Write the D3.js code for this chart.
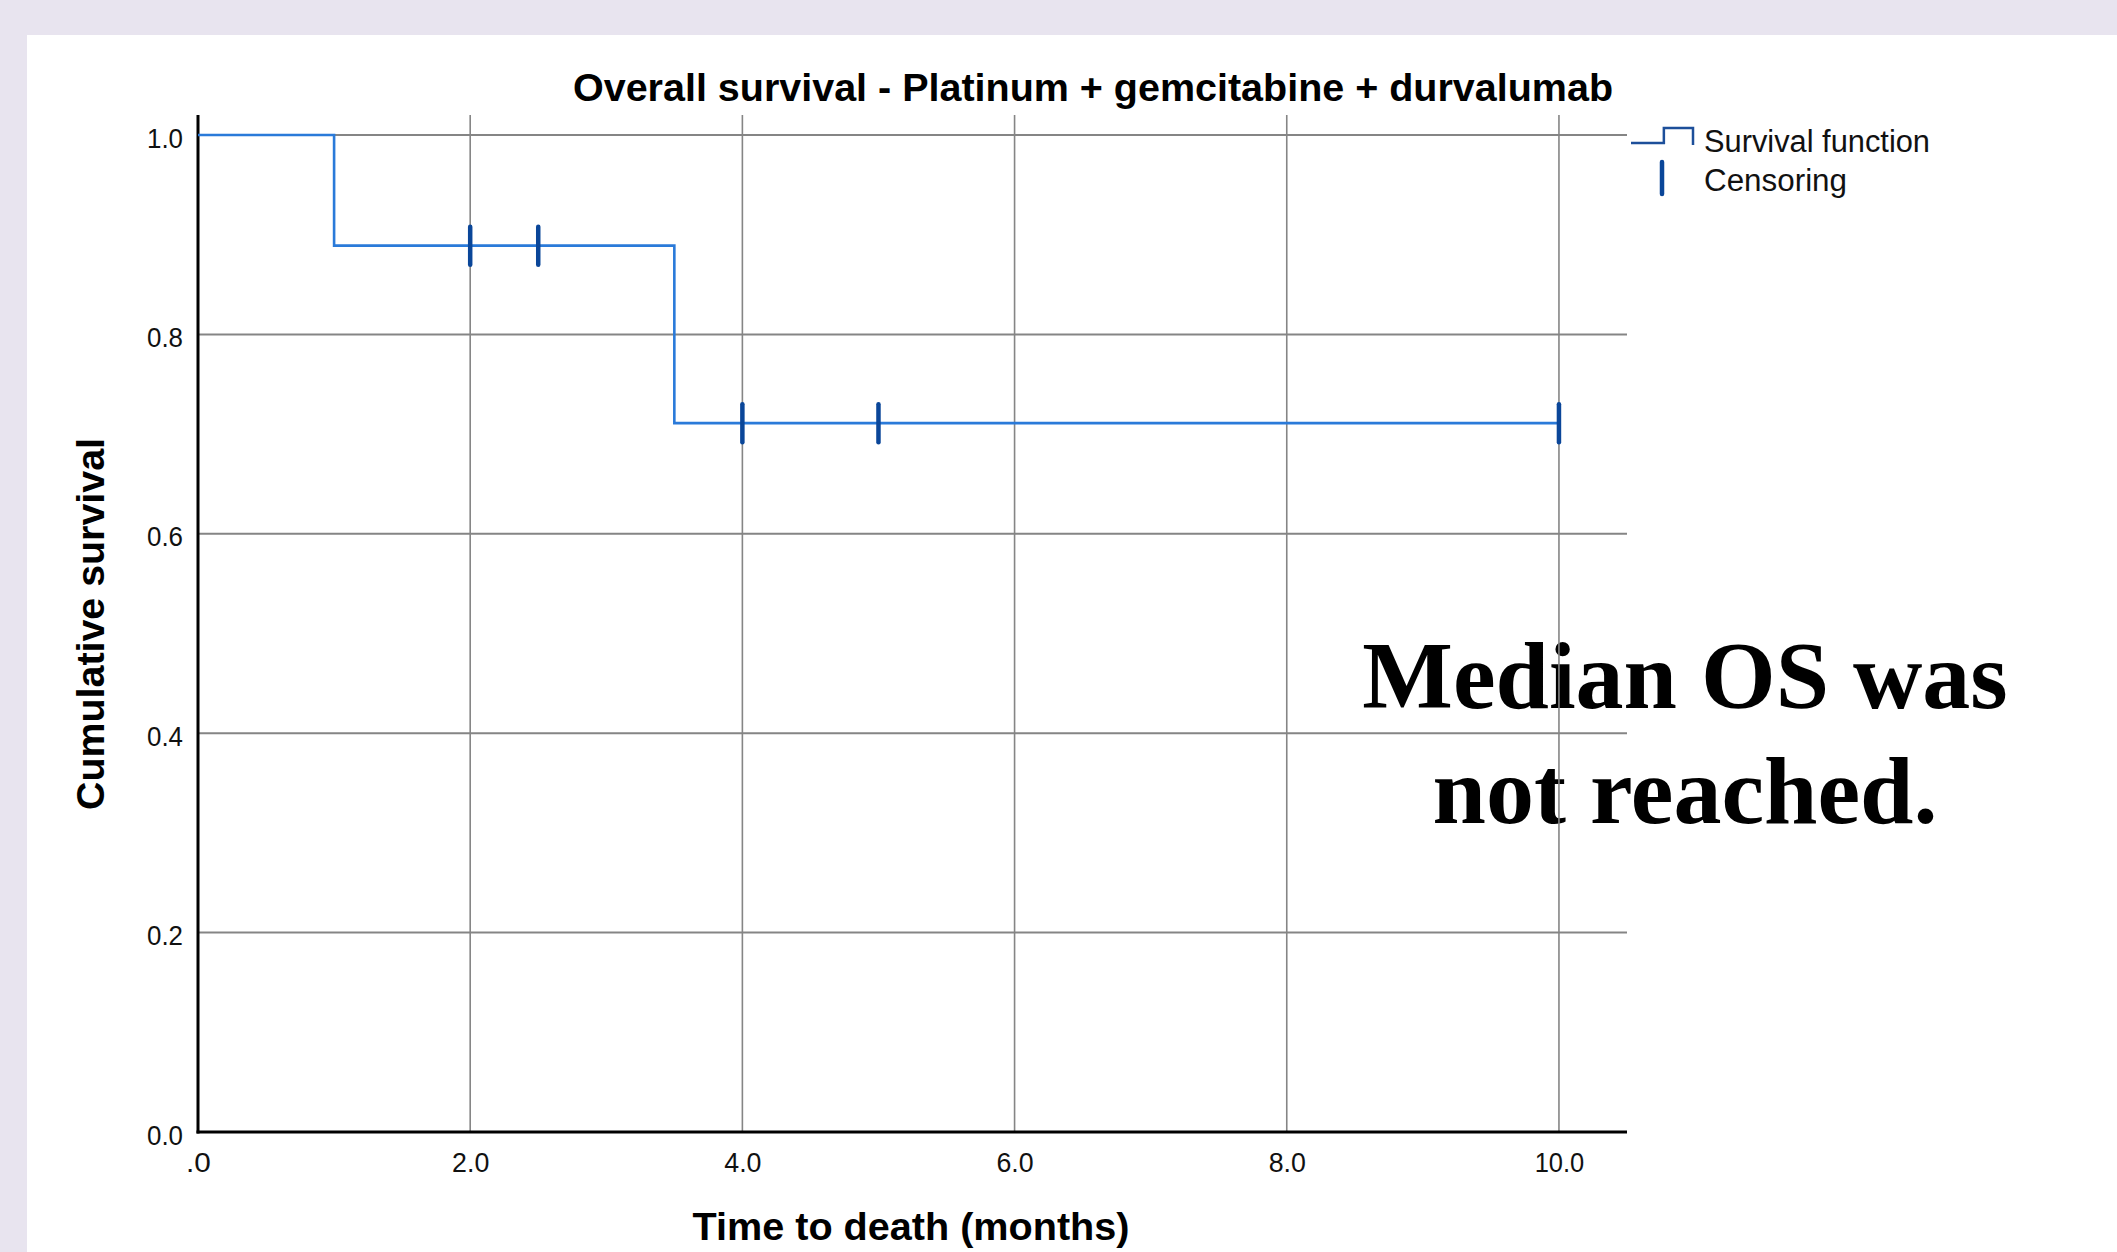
<!DOCTYPE html>
<html>
<head>
<meta charset="utf-8">
<script src="https://cdn.jsdelivr.net/npm/d3@7"></script>
<style>
  html, body { margin: 0; padding: 0; background: #e8e4ef; }
  svg { display: block; }
</style>
</head>
<body>
<svg id="chart" width="2117" height="1252"></svg>
<script>
// ---- Data ----
const titleText = "Overall survival - Platinum + gemcitabine + durvalumab";
const xLabelText = "Time to death (months)";
const yLabelText = "Cumulative survival";
const legendLabels = ["Survival function", "Censoring"];
const annotationLines = ["Median OS was", "not reached."];

const stepTimes = [0, 1.0, 3.5, 10.0];
const stepSurvival = [1.0, 0.889, 0.711, 0.711];

const censorTimes = [2.0, 2.5, 4.0, 5.0, 10.0];
const censorSurvival = [0.889, 0.889, 0.711, 0.711, 0.711];

const xTicks = [0, 2, 4, 6, 8, 10];
const xTickLabels = [".0", "2.0", "4.0", "6.0", "8.0", "10.0"];
const yTicks = [0, 0.2, 0.4, 0.6, 0.8, 1.0];
const yTickLabels = ["0.0", "0.2", "0.4", "0.6", "0.8", "1.0"];

(function () {
// ---- Layout ----
const svg = d3.select("#chart");
const W = 2117, H = 1252;
const pLeft = 198, pRight = 1627, pTop = 115, pBottom = 1132;

svg.append("rect").attr("x", 0).attr("y", 0).attr("width", W).attr("height", H).attr("fill", "#e8e4ef");
svg.append("rect").attr("x", 27).attr("y", 35).attr("width", W - 27).attr("height", H - 35).attr("fill", "#ffffff");

const x = d3.scaleLinear().domain([0, 10.5]).range([pLeft, pRight]);
const y = d3.scaleLinear().domain([0, 1.0]).range([pBottom, 135]);

const sans = "'Liberation Sans', Arial, sans-serif";

// Annotation (under grid)
const ann = svg.append("g");
ann.selectAll("text").data(annotationLines).join("text")
  .attr("x", 1685)
  .attr("y", (d, i) => 708 + i * 115)
  .attr("text-anchor", "middle")
  .attr("font-family", "'Liberation Serif', 'Times New Roman', serif")
  .attr("font-weight", "bold")
  .attr("font-size", 96)
  .attr("fill", "#000")
  .text(d => d);

// Gridlines
const grid = svg.append("g");
grid.selectAll("line.h").data(yTicks.filter(d => d > 0)).join("line")
  .attr("class", "h")
  .attr("x1", pLeft).attr("x2", pRight)
  .attr("y1", d => y(d)).attr("y2", d => y(d))
  .attr("stroke", "#858585").attr("stroke-width", 2);
grid.selectAll("line.v").data(xTicks.filter(d => d > 0)).join("line")
  .attr("class", "v")
  .attr("x1", d => x(d)).attr("x2", d => x(d))
  .attr("y1", pTop).attr("y2", pBottom)
  .attr("stroke", "#858585").attr("stroke-width", 1.6);

// Axes (labels via d3 axes)
const xAxis = svg.append("g").attr("transform", `translate(0,${pBottom})`)
  .call(d3.axisBottom(x).tickValues(xTicks).tickFormat((d, i) => xTickLabels[i]).tickSize(0).tickPadding(21));
const yAxis = svg.append("g").attr("transform", `translate(${pLeft},0)`)
  .call(d3.axisLeft(y).tickValues(yTicks).tickFormat((d, i) => yTickLabels[i]).tickSize(0).tickPadding(15));
[xAxis, yAxis].forEach(g => {
  g.select(".domain").remove();
  g.selectAll("text").attr("font-family", sans).attr("font-size", 27).attr("fill", "#111");
});
xAxis.selectAll(".tick text")
  .attr("textLength", (d, i) => xTickLabels[i].length * 12.4).attr("lengthAdjust", "spacingAndGlyphs");
yAxis.selectAll("text").attr("dy", "0.45em")
  .attr("textLength", 36).attr("lengthAdjust", "spacingAndGlyphs");

// Axis lines
svg.append("line").attr("x1", pLeft).attr("x2", pLeft).attr("y1", pTop).attr("y2", pBottom + 1.5)
  .attr("stroke", "#000").attr("stroke-width", 3);
svg.append("line").attr("x1", pLeft - 1.5).attr("x2", pRight).attr("y1", pBottom).attr("y2", pBottom)
  .attr("stroke", "#000").attr("stroke-width", 3);

// Survival curve
const stepData = stepTimes.map((t, i) => [t, stepSurvival[i]]);
const line = d3.line().x(d => x(d[0])).y(d => y(d[1])).curve(d3.curveStepAfter);
svg.append("path").datum(stepData)
  .attr("d", line)
  .attr("fill", "none")
  .attr("stroke", "#2a7ad9")
  .attr("stroke-width", 2.6);

// Censor marks
const censorData = censorTimes.map((t, i) => [t, censorSurvival[i]]);
svg.append("g").selectAll("line").data(censorData).join("line")
  .attr("x1", d => x(d[0])).attr("x2", d => x(d[0]))
  .attr("y1", d => y(d[1]) - 19).attr("y2", d => y(d[1]) + 19)
  .attr("stroke", "#0a4699").attr("stroke-width", 4.5).attr("stroke-linecap", "round");

// Title
svg.append("text")
  .attr("x", 1093).attr("y", 101)
  .attr("text-anchor", "middle")
  .attr("font-family", sans).attr("font-weight", "bold").attr("font-size", 39)
  .attr("textLength", 1040).attr("lengthAdjust", "spacingAndGlyphs")
  .attr("fill", "#000")
  .text(titleText);

// X label
svg.append("text")
  .attr("x", 911).attr("y", 1240)
  .attr("text-anchor", "middle")
  .attr("font-family", sans).attr("font-weight", "bold").attr("font-size", 38)
  .attr("textLength", 437).attr("lengthAdjust", "spacingAndGlyphs")
  .attr("fill", "#000")
  .text(xLabelText);

// Y label
svg.append("text")
  .attr("transform", "translate(104,624) rotate(-90)")
  .attr("text-anchor", "middle")
  .attr("font-family", sans).attr("font-weight", "bold").attr("font-size", 39)
  .attr("textLength", 372).attr("lengthAdjust", "spacingAndGlyphs")
  .attr("fill", "#000")
  .text(yLabelText);

// Legend
const lg = svg.append("g");
const lx = d3.scaleLinear().domain([0, 1]).range([1631, 1693]);
lg.append("path")
  .attr("d", d3.line()([[lx(0), 143], [lx(0.53), 143], [lx(0.53), 128], [lx(1), 128], [lx(1), 145]]))
  .attr("fill", "none").attr("stroke", "#1d4f9a").attr("stroke-width", 2.5);
lg.append("line").attr("x1", 1662).attr("x2", 1662).attr("y1", 162).attr("y2", 194)
  .attr("stroke", "#0a4699").attr("stroke-width", 4.5).attr("stroke-linecap", "round");
lg.selectAll("text").data(legendLabels).join("text")
  .attr("x", 1704)
  .attr("y", (d, i) => 152 + i * 39)
  .attr("font-family", sans).attr("font-size", 31)
  .attr("textLength", (d, i) => i === 0 ? 226 : 143).attr("lengthAdjust", "spacingAndGlyphs")
  .attr("fill", "#111")
  .text(d => d);
})();
</script>
</body>
</html>
